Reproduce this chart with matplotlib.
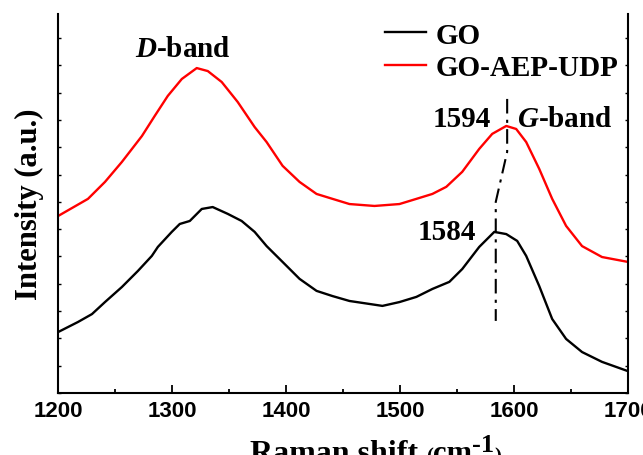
import matplotlib
matplotlib.use("Agg")
import matplotlib.pyplot as plt
from matplotlib.ticker import MultipleLocator

plt.rcParams['mathtext.fontset'] = 'custom'
plt.rcParams['mathtext.it'] = 'Liberation Serif:italic:bold'
plt.rcParams['mathtext.rm'] = 'Liberation Serif:bold'

# Raman spectra (intensity in arbitrary units)
go_shift = [1200, 1217.5, 1229.8, 1241.2, 1256.0, 1270.1, 1282.3, 1287.6, 1299.8, 1306.8,
            1315.6, 1326.1, 1335.7, 1348.9, 1361.1, 1372.5, 1383.0, 1397.0, 1411.9, 1426.8,
            1440.8, 1455.7, 1484.6, 1499.5, 1514.4, 1528.4, 1543.3, 1554.6, 1569.5, 1582.7,
            1593.2, 1602.8, 1610.7, 1622.1, 1633.5, 1645.7, 1659.7, 1677.2, 1700]
go_int = [2.23, 2.60, 2.89, 3.33, 3.88, 4.47, 5.02, 5.35, 5.90, 6.19,
          6.30, 6.74, 6.81, 6.56, 6.30, 5.90, 5.38, 4.80, 4.18, 3.74,
          3.55, 3.37, 3.19, 3.33, 3.52, 3.81, 4.07, 4.54, 5.35, 5.90,
          5.82, 5.57, 5.02, 3.92, 2.71, 1.98, 1.50, 1.14, 0.80]

udp_shift = [1200, 1226.3, 1241.2, 1256.0, 1273.6, 1284.9, 1296.3, 1308.6, 1321.7, 1331.4,
             1343.6, 1357.6, 1372.5, 1383.0, 1397.0, 1411.9, 1426.8, 1440.8, 1455.7, 1477.6,
             1499.5, 1514.4, 1528.4, 1540.6, 1554.6, 1569.5, 1580.9, 1593.2, 1601.9, 1610.7,
             1622.1, 1633.5, 1645.7, 1659.7, 1677.2, 1700]
udp_int = [6.48, 7.11, 7.73, 8.46, 9.41, 10.15, 10.88, 11.50, 11.90, 11.79,
           11.39, 10.66, 9.74, 9.19, 8.32, 7.73, 7.29, 7.11, 6.92, 6.85,
           6.92, 7.11, 7.29, 7.55, 8.10, 8.94, 9.49, 9.78, 9.67, 9.19,
           8.21, 7.11, 6.12, 5.38, 4.98, 4.80]

# G-band shift guide line
guide_x = [1594, 1594, 1584, 1584]
guide_y = [10.77, 8.83, 7.0, 2.64]

serif = 'Liberation Serif'

fig = plt.figure(figsize=(6.43, 4.56), dpi=100)
ax = fig.add_axes([58/643, 1-394/456, 570/643, 379/456])

ax.plot(go_shift, go_int, color='black', lw=1.7, label='GO')
ax.plot(udp_shift, udp_int, color='red', lw=1.7, label='GO-AEP-UDP')
ax.plot(guide_x, guide_y, color='black', lw=1.5, linestyle=(0, (7, 3, 1.5, 3)))

ax.set_xlim(1200, 1700)
ax.set_ylim(0, 13.88)
ax.xaxis.set_major_locator(MultipleLocator(100))
ax.xaxis.set_minor_locator(MultipleLocator(50))
ax.yaxis.set_major_locator(MultipleLocator(1))
ax.tick_params(axis='x', which='major', direction='in', length=6, width=1.3, pad=5,
               top=False, labelsize=16)
ax.tick_params(axis='x', which='minor', direction='in', length=2.7, width=1.3, top=False)
ax.tick_params(axis='y', which='major', direction='in', length=2.2, width=1.0,
               left=True, right=True, labelleft=False)
for lab in ax.get_xticklabels():
    lab.set_fontweight('bold')
    lab.set_family('Liberation Sans')

ax.spines['top'].set_visible(False)
for s in ['left', 'right', 'bottom']:
    ax.spines[s].set_linewidth(1.5)

ax.set_ylabel('Intensity (a.u.)', family=serif, weight='bold', fontsize=22, labelpad=10)

ax.text(1309.6, 12.34, r'$D$-band', family=serif, weight='bold', fontsize=21,
        ha='center', va='baseline')
ax.text(1580, 9.78, '1594', family=serif, weight='bold', fontsize=21, ha='right', va='baseline')
ax.text(1602.8, 9.78, r'$G$-band', family=serif, weight='bold', fontsize=21, ha='left', va='baseline')
ax.text(1566.9, 5.64, '1584', family=serif, weight='bold', fontsize=21, ha='right', va='baseline')

ax.legend(loc='upper left', bbox_to_anchor=(327/570, 0.98), frameon=False,
          prop={'family': serif, 'weight': 'bold', 'size': 21},
          handlelength=1.4, handletextpad=0.35, labelspacing=0.2,
          borderpad=0, borderaxespad=0)

# x label built from pieces (mixed sizes, superscript)
fig.canvas.draw()
r = fig.canvas.get_renderer()
x0 = 250
base = 456 - 462
pieces = [('Raman shift ', 23, 0), ('(', 15, 0), ('cm', 22, 0), ('-1', 19, 10), (')', 15, 0)]
for s, size, rise in pieces:
    t = fig.text(x0/643, (base + rise)/456, s, family=serif, weight='bold', fontsize=size,
                 va='baseline', ha='left')
    bb = t.get_window_extent(renderer=r)
    x0 += bb.width

fig.savefig('out.png', dpi=100)
